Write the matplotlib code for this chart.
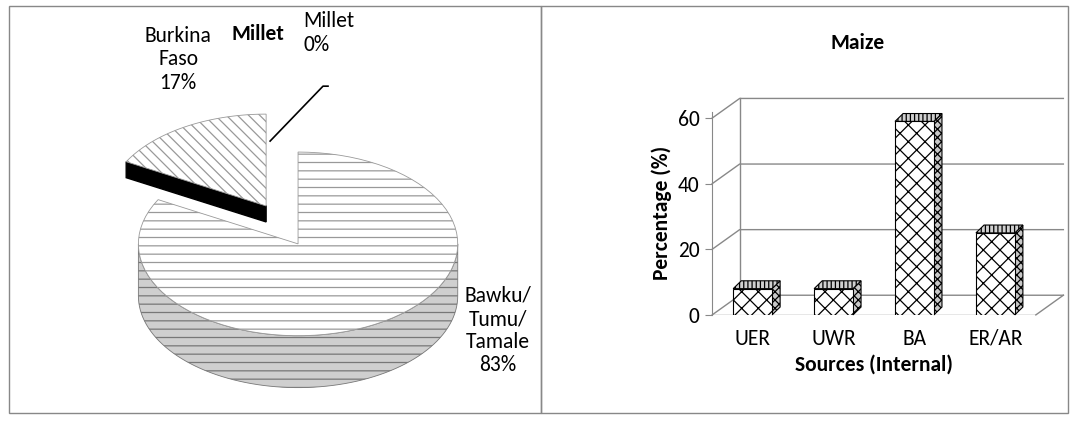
import numpy as np
import matplotlib as mpl
mpl.use('agg')
import matplotlib.pyplot as plt
from matplotlib.patches import Polygon, Rectangle

plt.rcParams['font.family'] = ['Carlito', 'Lato', 'DejaVu Sans']
plt.rcParams['hatch.linewidth'] = 0.9
FS = 15.5

pie_labels = ['Bawku/\nTumu/\nTamale\n83%', 'Burkina\nFaso\n17%', 'Millet\n0%']
pie_values = [83, 17, 0]
bar_cats = ['UER', 'UWR', 'BA', 'ER/AR']
bar_vals = [8, 8, 59, 25]

fig = plt.figure(figsize=(10.79, 4.21), dpi=100)
fig.patches.append(Rectangle((0.008, 0.02), 0.493, 0.965, transform=fig.transFigure,
                             fill=False, ec='#888888', lw=1))
fig.patches.append(Rectangle((0.501, 0.02), 0.489, 0.965, transform=fig.transFigure,
                             fill=False, ec='#888888', lw=1))

# ---- left: faux 3D pie
ax = fig.add_axes([0.008, 0.02, 0.493, 0.965])
ax.set_xlim(0, 533); ax.set_ylim(407, 0); ax.axis('off')
cx, cy, rx, ry, h = 290, 238, 160, 92, 52

def arc(t0, t1, x0, y0, n=80):
    t = np.linspace(t0, t1, n)
    return np.column_stack([x0 + rx*np.cos(t), y0 - ry*np.sin(t)])

start = np.pi/2
angs = []
for v in pie_values:
    sweep = v/100*2*np.pi
    angs.append((start - sweep, start))
    start -= sweep
hatches = ['--', '\\\\\\', '']
offs = [(0, 0), (-32, -38), (0, 0)]
for (t0, t1), ht, (ox, oy), v in zip(angs, hatches, offs, pie_values):
    if v == 0:
        continue
    x0, y0 = cx+ox, cy+oy
    for k in range(-2, 2):
        a, b = max(t0, np.pi + 2*np.pi*k), min(t1, 2*np.pi + 2*np.pi*k)
        if a < b:
            top = arc(a, b, x0, y0)
            bot = arc(b, a, x0, y0 + h)
            ax.add_patch(Polygon(np.vstack([top, bot]), fc='#cfcfcf', ec='#777777',
                                 hatch='--', lw=0.6))
for (t0, t1), ht, (ox, oy), v in zip(angs, hatches, offs, pie_values):
    if v == 0:
        continue
    x0, y0 = cx+ox, cy+oy
    if ht == '\\\\\\':
        # dark edge of the pulled-out slice
        e = (x0 + rx*np.cos(t1), y0 - ry*np.sin(t1))
        ax.add_patch(Polygon([(x0, y0), e, (e[0], e[1]+16), (x0, y0+16)],
                             fc='black', ec='black'))
    pts = np.vstack([[(x0, y0)], arc(t0, t1, x0, y0)])
    ax.add_patch(Polygon(pts, fc='white', ec='#999999', hatch=ht, lw=0.6))
ax.text(170, 20, pie_labels[1], ha='center', va='top', fontsize=FS)
ax.text(490, 280, pie_labels[0], ha='center', va='top', fontsize=FS)
ax.text(295, 5, pie_labels[2], ha='left', va='top', fontsize=FS)
ax.text(250, 28, 'Millet', ha='center', va='center', fontsize=FS, fontweight='bold')
ax.plot([262, 315, 320], [135, 80, 80], color='black', lw=1.2)

# ---- right: faux 3D bars
ax2 = fig.add_axes([0.66, 0.252, 0.30, 0.483])
ax2.set_xlim(-0.5, 3.5); ax2.set_ylim(0, 62)
dx, dy = 0.34, 6
for v in [0, 20, 40, 60]:
    ax2.plot([-0.5, -0.5+dx, 3.5+dx], [v, v+dy, v+dy], color='#888888', lw=1,
             clip_on=False, zorder=0)
ax2.plot([-0.5+dx, -0.5+dx], [dy, 60+dy], color='#888888', lw=1, clip_on=False, zorder=0)
ax2.plot([3.5, 3.5+dx], [0, dy], color='#888888', lw=1, clip_on=False, zorder=0)
ax2.plot([-0.5, 3.5], [0, 0], color='#888888', lw=1, zorder=0)
w, bdx, bdy = 0.48, 0.1, 2.4
for i, v in enumerate(bar_vals):
    xl = i - w/2
    ax2.add_patch(Polygon([(xl+w, 0), (xl+w+bdx, bdy), (xl+w+bdx, v+bdy), (xl+w, v)],
                          fc='#c8c8c8', ec='black', hatch='xxxx', lw=0.8, clip_on=False, zorder=2))
    ax2.add_patch(Polygon([(xl, v), (xl+bdx, v+bdy), (xl+w+bdx, v+bdy), (xl+w, v)],
                          fc='#d0d0d0', ec='black', hatch='||||', lw=0.8, clip_on=False, zorder=2))
ax2.bar(range(4), bar_vals, width=w, color='white', edgecolor='black', hatch='xx', lw=0.8,
        zorder=3)
for s in ['top', 'right', 'bottom']:
    ax2.spines[s].set_visible(False)
ax2.spines['left'].set_color('#888888')
ax2.set_yticks([0, 20, 40, 60])
ax2.set_xticks(range(4), bar_cats)
ax2.tick_params(labelsize=FS, length=0, pad=10)
ax2.tick_params(axis='y', length=5, color='#888888', pad=4)
ax2.set_ylabel('Percentage (%)', fontsize=FS, fontweight='bold')
ax2.set_xlabel('Sources (Internal)', fontsize=FS, fontweight='bold', labelpad=4)
ax2.set_title('Maize', fontsize=FS, fontweight='bold', pad=45, x=0.45)

fig.savefig('out.png', dpi=100)
